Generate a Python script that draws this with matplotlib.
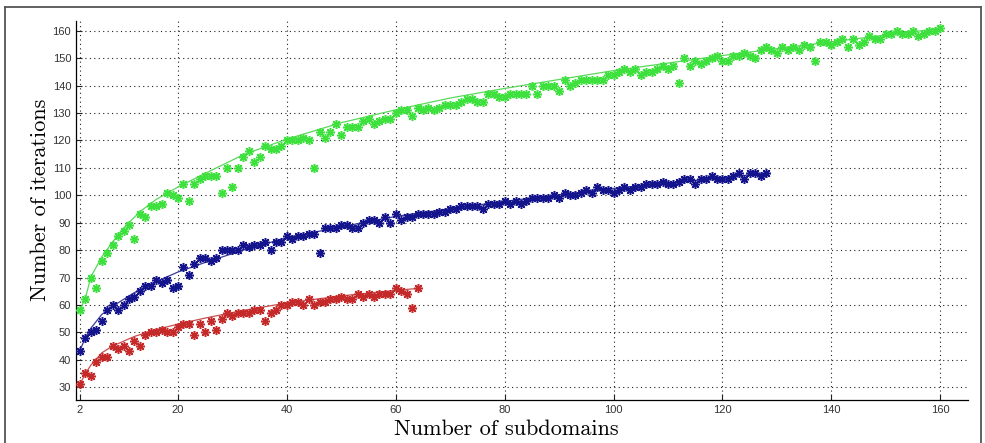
import numpy as np
import matplotlib
matplotlib.use('Agg')
import matplotlib.pyplot as plt
from matplotlib.lines import Line2D

# iterations per number of subdomains (x starts at 2, one point per integer)
red_iters = [31, 35, 34, 39, 41, 41, 45, 44, 45, 43,
             47, 45, 49, 50, 50, 51, 50, 50, 52, 53,
             53, 49, 53, 50, 54, 51, 55, 57, 56, 57,
             57, 57, 58, 58, 54, 57, 58, 60, 60, 61,
             61, 60, 62, 60, 61, 61, 62, 62, 63, 62,
             62, 64, 63, 64, 63, 64, 64, 64, 66, 65,
             64, 59, 66]

blue_iters = [43, 48, 50, 51, 54, 58, 60, 58, 60, 62,
              63, 65, 67, 67, 69, 68, 69, 66, 67, 74,
              71, 75, 77, 77, 76, 77, 80, 80, 80, 80,
              82, 81, 82, 82, 83, 80, 83, 83, 85, 84,
              85, 85, 86, 86, 79, 88, 88, 88, 89, 89,
              88, 88, 90, 91, 91, 90, 92, 90, 93, 91,
              92, 92, 93, 93, 93, 93, 94, 94, 95, 95,
              96, 96, 96, 96, 95, 97, 97, 97, 98, 97,
              98, 97, 98, 99, 99, 99, 99, 100, 99, 101,
              100, 100, 101, 102, 101, 103, 102, 102, 101, 102,
              103, 102, 103, 103, 104, 104, 104, 105, 104, 104,
              105, 106, 106, 104, 106, 106, 107, 106, 106, 106,
              107, 108, 106, 108, 108, 107, 108]

green_iters = [58, 62, 70, 66, 76, 79, 82, 85, 87, 89,
               84, 93, 92, 96, 96, 97, 101, 100, 99, 104,
               98, 104, 106, 107, 107, 107, 101, 110, 103, 110,
               114, 116, 112, 114, 118, 117, 117, 118, 120, 120,
               120, 121, 120, 110, 123, 121, 123, 126, 122, 125,
               125, 125, 127, 128, 126, 127, 128, 128, 130, 131,
               131, 129, 132, 131, 132, 131, 132, 133, 133, 133,
               134, 135, 135, 134, 134, 137, 137, 136, 136, 137,
               137, 137, 137, 140, 137, 140, 140, 140, 138, 142,
               140, 141, 142, 142, 142, 142, 142, 144, 144, 145,
               146, 145, 146, 144, 145, 145, 146, 147, 146, 147,
               141, 150, 147, 149, 148, 149, 150, 151, 149, 149,
               151, 151, 152, 151, 150, 153, 154, 153, 152, 154,
               153, 154, 153, 155, 154, 149, 156, 156, 155, 156,
               157, 154, 157, 155, 156, 158, 157, 157, 159, 159,
               160, 159, 159, 160, 158, 159, 160, 160, 161]

red_fit_x = [2, 3, 4, 6, 8, 12, 16, 20, 25, 32, 40, 50, 60, 64]
red_fit_y = [31, 35, 38, 42.5, 45, 48.5, 51, 53, 55.2, 58, 60.7, 63.3, 65.3, 66]
blue_fit_x = [2, 3, 4, 6, 8, 12, 16, 20, 25, 32, 40, 50, 60, 80, 100, 128]
blue_fit_y = [43.5, 48, 51.5, 56.5, 59.5, 64.5, 68.5, 72, 75.5, 80, 84.5, 88.5, 92.3, 97.8, 102.5, 108]
green_fit_x = [2, 3, 4, 6, 8, 10, 13, 16, 20, 25, 32, 40, 50, 60, 70, 80, 100, 120, 140, 160]
green_fit_y = [58, 62.5, 70.2, 77.5, 83, 88, 94, 98.5, 103, 108, 114.8, 120.5, 126.5, 131.2,
               135.5, 139, 145.5, 151, 156, 160.9]

x_ticks = [2, 20, 40, 60, 80, 100, 120, 140, 160]
y_ticks = list(range(30, 161, 10))

series = [
    (red_iters, red_fit_x, red_fit_y, '#c42a2a', '#c85050'),
    (blue_iters, blue_fit_x, blue_fit_y, '#14148c', '#3a3a9a'),
    (green_iters, green_fit_x, green_fit_y, '#3ee03e', '#5ad85a'),
]

fig = plt.figure(figsize=(9.85, 4.43), dpi=100)
ax = fig.add_axes([76 / 985, 1 - 400 / 443, (968 - 76) / 985, (400 - 21) / 443])

for iters, fx, fy, mcol, lcol in series:
    xs = np.arange(2, 2 + len(iters))
    ax.plot(fx, fy, '-', color=lcol, lw=0.9, zorder=2)
    ax.plot(xs, iters, linestyle='none', marker=(8, 2, 0), markersize=6.5,
            markeredgewidth=1.1, color=mcol, zorder=3)

ax.set_xlim(1.27, 165.1)
ax.set_ylim(25.3, 163.6)
ax.set_xticks(x_ticks)
ax.set_yticks(y_ticks)
ax.tick_params(direction='in', length=4, width=0.8, labelsize=8, colors='#222',
               labelcolor='#333')
for lab in ax.get_xticklabels() + ax.get_yticklabels():
    lab.set_family(['Liberation Sans', 'DejaVu Sans'])
ax.grid(True, color='#222', linestyle=(0, (1, 3)), linewidth=0.8)
ax.spines['top'].set_visible(False)
ax.spines['right'].set_visible(False)
ax.spines['left'].set_linewidth(0.9)
ax.spines['bottom'].set_linewidth(0.9)

fig.text(506 / 985, 1 - 429 / 443, 'Number of subdomains', family='cmr10',
         fontsize=16, ha='center', va='center')
fig.text(40 / 985, 1 - 200 / 443, 'Number of iterations', family='cmr10',
         fontsize=16, ha='center', va='center', rotation=90)

# outer frame of the picture
frame_col = '#555555'
fig.add_artist(Line2D([5 / 985, 5 / 985], [0, 1 - 7 / 443], transform=fig.transFigure,
                      color=frame_col, lw=1.3))
fig.add_artist(Line2D([5 / 985, 981 / 985], [1 - 7 / 443, 1 - 7 / 443],
                      transform=fig.transFigure, color=frame_col, lw=1.3))
fig.add_artist(Line2D([981 / 985, 981 / 985], [0, 1 - 7 / 443], transform=fig.transFigure,
                      color=frame_col, lw=1.3))

fig.savefig('out.png', dpi=100)
